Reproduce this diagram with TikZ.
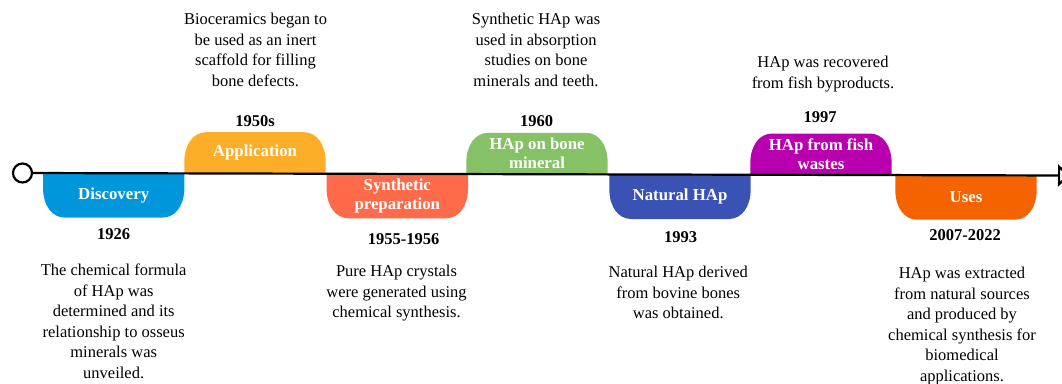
\documentclass[tikz,border=0pt]{standalone}
\usepackage{fontspec}
\setmainfont{Liberation Serif}
\usetikzlibrary{calc,backgrounds,arrows.meta}
\definecolor{cDisc}{HTML}{0096DC}
\definecolor{cAppl}{HTML}{FDAE28}
\definecolor{cSynt}{HTML}{FF6B4A}
\definecolor{cBone}{HTML}{86C166}
\definecolor{cNatu}{HTML}{3A52B4}
\definecolor{cFish}{HTML}{B900AF}
\definecolor{cUses}{HTML}{F56200}
\newcommand\uptab[2]{%
  \fill[#2] (#1.south west) -- ($(#1.north west)+(0,30)$)
    .. controls ($(#1.north west)+(0,12)$) and ($(#1.north west)+(9,0)$) .. ($(#1.north west)+(22,0)$)
    -- ($(#1.north east)+(-22,0)$)
    .. controls ($(#1.north east)+(-9,0)$) and ($(#1.north east)+(0,12)$) .. ($(#1.north east)+(0,30)$)
    -- (#1.south east) -- cycle;}
\newcommand\downtab[2]{%
  \fill[#2] (#1.north west) -- ($(#1.south west)+(0,-30)$)
    .. controls ($(#1.south west)+(0,-12)$) and ($(#1.south west)+(9,0)$) .. ($(#1.south west)+(22,0)$)
    -- ($(#1.south east)+(-22,0)$)
    .. controls ($(#1.south east)+(-9,0)$) and ($(#1.south east)+(0,-12)$) .. ($(#1.south east)+(0,-30)$)
    -- (#1.north east) -- cycle;}
\begin{document}
\begin{tikzpicture}[x=1pt,y=-1pt,
  lbl/.style={font=\fontsize{16.8}{19.5}\selectfont\bfseries, text=white, align=center,
    minimum width=141pt, inner sep=0pt},
  upbox/.style={lbl, minimum height=41pt, anchor=south},
  downbox/.style={lbl, minimum height=44pt, anchor=north},
  year/.style={font=\fontsize{16.5}{19.5}\selectfont\bfseries, anchor=base, inner sep=0pt},
  desc/.style={font=\fontsize{16.5}{20.5}\selectfont, align=center, anchor=north, inner sep=0pt},
  tl/.style={line width=2.2pt}]
\useasboundingbox (0,0) rectangle (1062,383);

% event boxes
\node[downbox] (disc) at (113.7,173.2) {Discovery};
\node[upbox]   (appl) at (255,173.6) {Application};
\node[downbox] (synt) at (397.3,173.9) {Synthetic\\preparation};
\node[upbox]   (bone) at (537,174.2) {HAp on bone\\mineral};
\node[downbox] (natu) at (680,174.6) {Natural HAp};
\node[upbox]   (fish) at (821,174.9) {HAp from fish\\wastes};
\node[downbox] (uses) at (966,175.3) {Uses};

\begin{pgfonlayer}{background}
  \downtab{disc}{cDisc}
  \uptab{appl}{cAppl}
  \downtab{synt}{cSynt}
  \uptab{bone}{cBone}
  \downtab{natu}{cNatu}
  \uptab{fish}{cFish}
  \downtab{uses}{cUses}
\end{pgfonlayer}

% years
\node[year] (y1926) at (113.5,239) {1926};
\node[year] (y1950) at (255,126) {1950s};
\node[year] (y1955) at (403.5,244) {1955-1956};
\node[year] (y1960) at (536.7,126.7) {1960};
\node[year] (y1993) at (680.5,242) {1993};
\node[year] (y1997) at (820,122) {1997};
\node[year] (y2007) at (965,240) {2007-2022};

% descriptions
\node[desc] (dDisc) at (113.7,264.1) {The chemical formula\\of HAp was\\determined and its\\relationship to osseus\\minerals was\\unveiled.};
\node[desc] (dAppl) at (255.5,13.1) {Bioceramics began to\\be used as an inert\\scaffold for filling\\bone defects.};
\node[desc] (dSynt) at (396.5,265) {Pure HAp crystals\\were generated using\\chemical synthesis.};
\node[desc] (dBone) at (536,13.1) {Synthetic HAp was\\used in absorption\\studies on bone\\minerals and teeth.};
\node[desc] (dNatu) at (678.3,266) {Natural HAp derived\\from bovine bones\\was obtained.};
\node[desc] (dFish) at (823,56) {HAp was recovered\\from fish byproducts.};
\node[desc] (dUses) at (962,267) {HAp was extracted\\from natural sources\\and produced by\\chemical synthesis for\\biomedical\\applications.};

% timeline
\node[circle, draw, tl, minimum size=19pt, inner sep=0pt] (start) at (22.5,173) {};
\coordinate (end) at (1070,175.5);
\draw[tl, -{Triangle[open,length=12pt,width=22pt]}] (start) -- (end);
\end{tikzpicture}
\end{document}
